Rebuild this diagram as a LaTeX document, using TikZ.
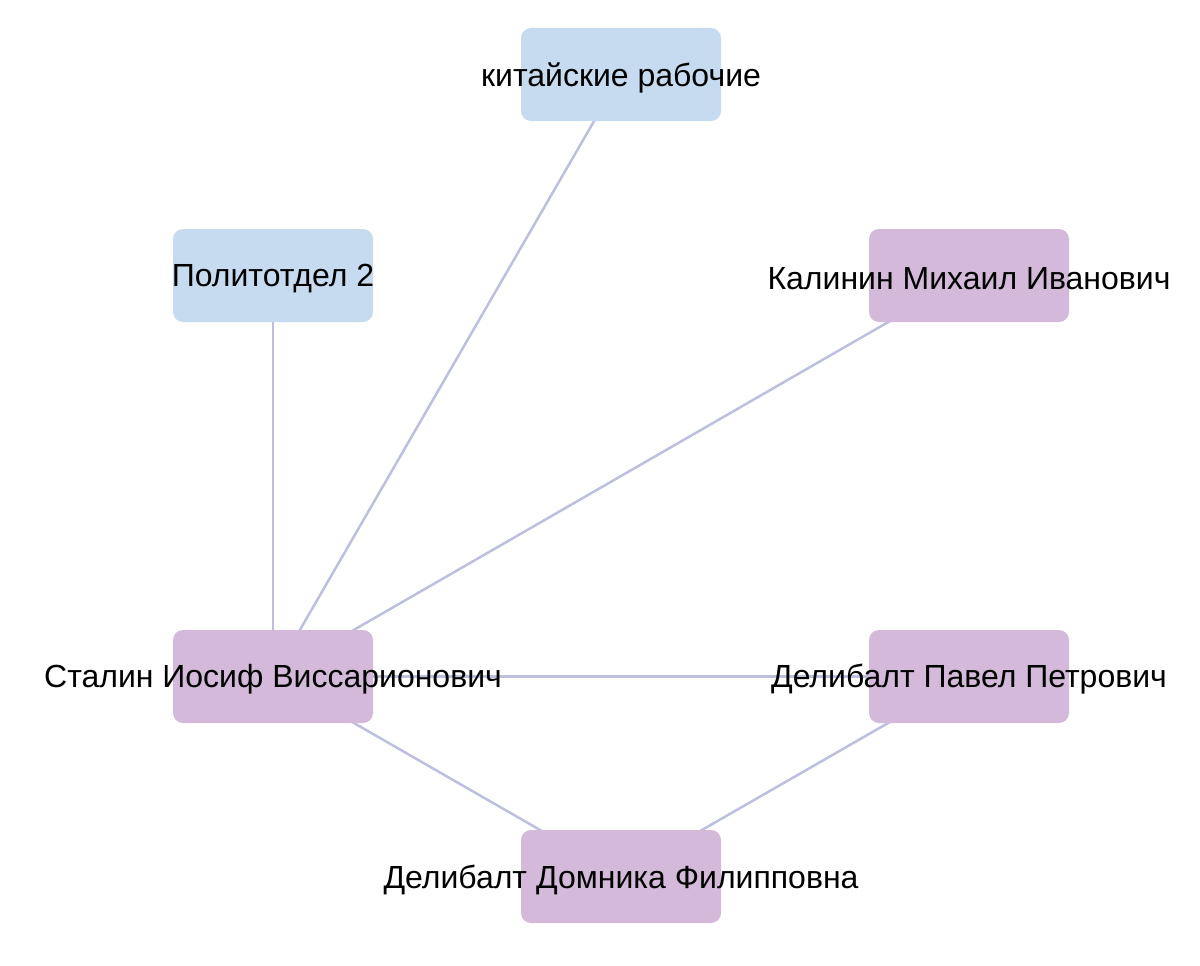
\documentclass[tikz,border=0pt]{standalone}
\usepackage{fontspec}
\setmainfont{Liberation Sans}
\usetikzlibrary{backgrounds}
\definecolor{bluebox}{HTML}{C6DBEF}
\definecolor{purplebox}{HTML}{D4B9DA}
\definecolor{edgecol}{HTML}{BCC0DE}
\tikzset{
  base/.style={rounded corners=10pt, minimum width=200pt, minimum height=93pt, inner sep=0pt, font=\fontsize{32}{38}\selectfont, text=black},
  bnode/.style={base, fill=bluebox},
  pnode/.style={base, fill=purplebox},
  link/.style={draw=edgecol, line width=2.5pt}
}
\begin{document}
\begin{tikzpicture}[x=1pt,y=-1pt]
\useasboundingbox (0,0) rectangle (1200,966);
\node[bnode] (kit) at (621,74.5) {};
\node[bnode] (pol) at (273,275.5) {};
\node[pnode] (kal) at (969,275.5) {};
\node[pnode] (sta) at (273,676.5) {};
\node[pnode] (pav) at (969,676.5) {};
\node[pnode] (dom) at (621,876.5) {};
\begin{scope}[on background layer]
\draw[link] (sta.center) -- (pol.center);
\draw[link] (sta.center) -- (kit.center);
\draw[link] (sta.center) -- (kal.center);
\draw[link] (sta.center) -- (pav.center);
\draw[link] (sta.center) -- (dom.center);
\draw[link] (pav.center) -- (dom.center);
\end{scope}
\node[base] (kitt) at ([yshift=-3pt]kit) {китайские рабочие};
\node[base] (polt) at ([yshift=-3pt]pol) {Политотдел 2};
\node[base] (kalt) at ([yshift=-3pt]kal) {Калинин Михаил Иванович};
\node[base] (stat) at ([yshift=-3pt]sta) {Сталин Иосиф Виссарионович};
\node[base] (pavt) at ([yshift=-3pt]pav) {Делибалт Павел Петрович};
\node[base] (domt) at ([yshift=-3pt]dom) {Делибалт Домника Филипповна};
\end{tikzpicture}
\end{document}
